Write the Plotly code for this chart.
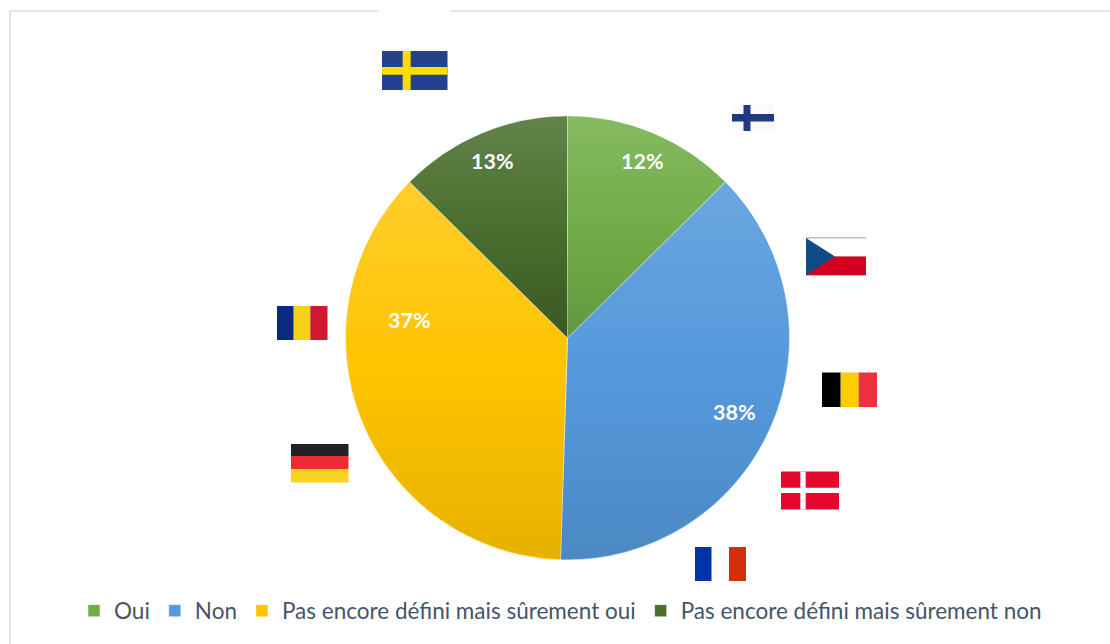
import base64
import math
import plotly.graph_objects as go

W, H = 1110, 644

# ---- data ----
categories = ["Oui", "Non", "Pas encore défini mais sûrement oui", "Pas encore défini mais sûrement non"]
values = [12.6, 37.9, 36.9, 12.6]
value_labels = ["12%", "38%", "37%", "13%"]

# ---- styles ----
colors = ["#70ad47", "#5599dc", "#ffc400", "#4a6f2e"]
sheen = [(0.15, 0.12), (0.13, 0.11), (0.17, 0.10), (0.14, 0.22)]
CX, CY, R = 567.5, 338.0, 222.0
label_pos = [(642, 161), (734, 412), (409, 320), (492, 161)]
TEXT = "#44546a"


def px(x):
    return x / W


def py(y):
    return 1 - y / H


def rect(x0, y0, x1, y1, fill):
    return dict(type="rect", xref="paper", yref="paper", x0=px(x0), x1=px(x1), y0=py(y0), y1=py(y1),
                fillcolor=fill, line=dict(width=0), layer="above")


def hline(x0, x1, y):
    return dict(type="line", xref="paper", yref="paper", x0=px(x0), x1=px(x1), y0=py(y), y1=py(y),
                line=dict(color="#e1e5ef", width=2), layer="below")


def vline(x, y0, y1):
    return dict(type="line", xref="paper", yref="paper", x0=px(x), x1=px(x), y0=py(y0), y1=py(y1),
                line=dict(color="#e1e5ef", width=2), layer="below")


def poly(points, fill):
    d = "M " + " L ".join(f"{px(a):.5f},{py(b):.5f}" for a, b in points) + " Z"
    return dict(type="path", xref="paper", yref="paper", path=d, fillcolor=fill, line=dict(width=0), layer="above")


def vstripes(x0, y0, x1, y1, stops, fills):
    edges = [x0] + stops + [x1]
    return [rect(edges[i], y0, edges[i + 1], y1, f) for i, f in enumerate(fills)]


def hstripes(x0, y0, x1, y1, stops, fills):
    edges = [y0] + stops + [y1]
    return [rect(x0, edges[i], x1, edges[i + 1], f) for i, f in enumerate(fills)]


shapes = [vline(10, 10, 644), hline(10, 378, 11), hline(451, 1110, 11)]

# Finland
shapes += [rect(732, 105, 774, 131, "#fafafa"), rect(743.5, 105, 750.5, 131, "#1f3a80"), rect(732, 114, 774, 121.5, "#1f3a80")]
# Czechia
shapes += [rect(806, 237, 866, 276, "#bdbdbd"), rect(806, 238.5, 866, 256.5, "#ffffff"), rect(806, 256.5, 866, 275, "#d4001f"),
           poly([(806, 238), (835, 256.5), (806, 275)], "#0f4c85")]
# Belgium
shapes += vstripes(822, 372.5, 877, 407, [840.7, 858.7], ["#000000", "#ffcb05", "#ee2f3e"])
# Denmark
shapes += [rect(781, 471.5, 839, 509.5, "#e4092d"), rect(800.3, 471.5, 805.7, 509.5, "#ffffff"), rect(781, 487.7, 839, 493, "#ffffff")]
# France
shapes += vstripes(695, 547, 746, 581, [711.7, 729], ["#0033a8", "#fcfcfc", "#d1300d"])
# Romania
shapes += vstripes(277, 306, 327.5, 340, [293.7, 310.3], ["#0a2a80", "#f7d117", "#ce1a30"])
# Germany
shapes += hstripes(291, 444, 348.5, 482.5, [456, 469.3], ["#222222", "#ee2b35", "#f8d31f"])
# Sweden
shapes += [rect(382, 51, 447.5, 90, "#23418f"), rect(402.7, 51, 410.7, 90, "#fcdc04"), rect(382, 67, 447.5, 74.7, "#fcdc04")]


def sheen_svg():
    """Per-slice light-to-dark overlay; slice outlines follow the values."""
    total = sum(values)
    r = R - 1
    defs, paths = [], []
    a = 0.0
    for i, v in enumerate(values):
        b = a + v / total * 2 * math.pi
        steps = 60
        pts = [(CX + r * math.sin(a + (b - a) * k / steps), CY - r * math.cos(a + (b - a) * k / steps)) for k in range(steps + 1)]
        ys = [p[1] for p in pts] + [CY]
        top, bot = min(ys), max(ys)
        lo, hi = sheen[i]
        defs.append(
            f'<linearGradient id="g{i}" gradientUnits="userSpaceOnUse" x1="0" x2="0" y1="{top:.1f}" y2="{bot:.1f}">'
            f'<stop offset="0" stop-color="#fff" stop-opacity="{lo}"/>'
            f'<stop offset="0.5" stop-color="#fff" stop-opacity="0"/>'
            f'<stop offset="0.5" stop-color="#000" stop-opacity="0"/>'
            f'<stop offset="1" stop-color="#000" stop-opacity="{hi}"/></linearGradient>'
        )
        d = f"M{CX},{CY} " + " ".join(f"L{x:.2f},{y:.2f}" for x, y in pts) + " Z"
        paths.append(f'<path d="{d}" fill="url(#g{i})"/>')
        a = b
    svg = (f'<svg xmlns="http://www.w3.org/2000/svg" width="{W}" height="{H}" viewBox="0 0 {W} {H}">'
           f'<defs>{"".join(defs)}</defs>{"".join(paths)}</svg>')
    return "data:image/svg+xml;base64," + base64.b64encode(svg.encode()).decode()


fig = go.Figure(go.Pie(
    labels=categories,
    values=values,
    sort=False,
    direction="clockwise",
    rotation=0,
    textinfo="none",
    hoverinfo="label+percent",
    marker=dict(colors=colors, line=dict(color="rgba(255,255,255,0.6)", width=0.75)),
    domain=dict(x=[px(CX - R), px(CX + R)], y=[py(CY + R), py(CY - R)]),
))

annotations = [
    dict(text=f"<b>{t}</b>", x=px(x), y=py(y), xref="paper", yref="paper", showarrow=False,
         xanchor="center", yanchor="middle", font=dict(family="Lato", size=21.5, color="#ffffff"))
    for t, (x, y) in zip(value_labels, label_pos)
]

fig.update_layout(
    width=W, height=H, autosize=False,
    margin=dict(l=0, r=0, t=0, b=0),
    paper_bgcolor="#ffffff",
    font=dict(family="Lato", color=TEXT, size=22),
    shapes=shapes,
    annotations=annotations,
    images=[dict(source=sheen_svg(), xref="paper", yref="paper", x=0, y=1, sizex=1, sizey=1,
                 sizing="stretch", xanchor="left", yanchor="top", layer="above")],
    legend=dict(orientation="h", x=px(74), xanchor="left", y=py(611), yanchor="middle",
                font=dict(family="Lato", size=22.5, color=TEXT), itemwidth=30, bgcolor="rgba(0,0,0,0)",
                itemclick=False, itemdoubleclick=False),
    showlegend=True,
)

fig.write_html("out.html", config=dict(displayModeBar=False),
               post_script="document.body.style.margin='0';")
